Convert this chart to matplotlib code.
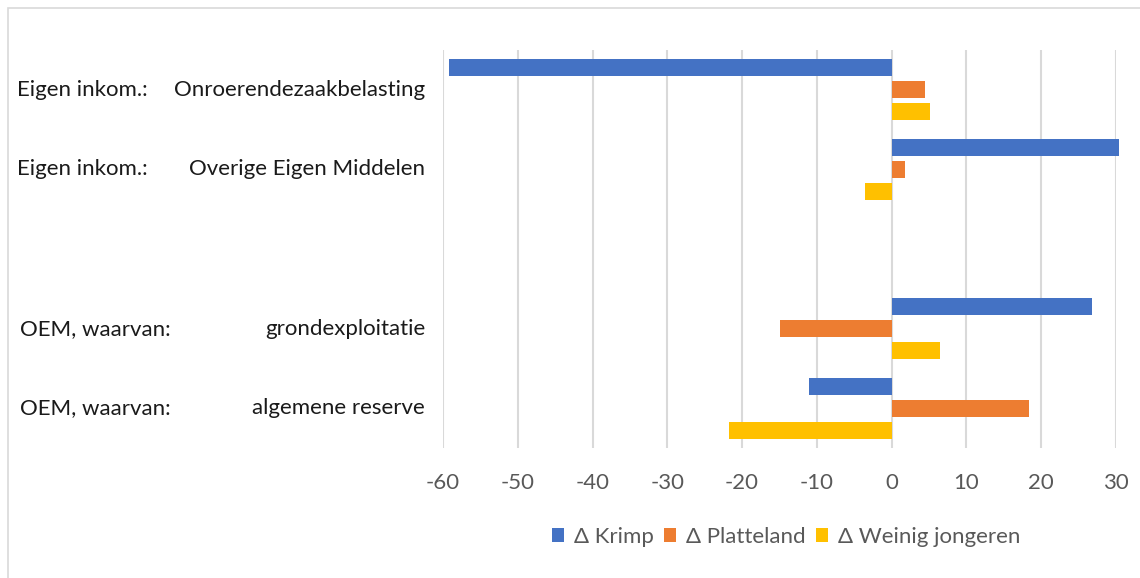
import numpy as np
import matplotlib.pyplot as plt
from matplotlib.patches import Rectangle

# categories (top to bottom); empty slot between the two groups
groups = ['Eigen inkom.:', 'Eigen inkom.:', '', 'OEM, waarvan:', 'OEM, waarvan:']
items = ['Onroerendezaakbelasting', 'Overige Eigen Middelen', '', 'grondexploitatie', 'algemene reserve']

series = ['\u0394 Krimp', '\u0394 Platteland', '\u0394 Weinig jongeren']
krimp = [-59.2, 30.4, np.nan, 26.8, -11.0]
platteland = [4.5, 1.8, np.nan, -14.9, 18.4]
weinig_jongeren = [5.1, -3.6, np.nan, 6.4, -21.8]
ticks = [-60, -50, -40, -30, -20, -10, 0, 10, 20, 30]

colors = ['#4472C4', '#ED7D31', '#FFC000']

plt.rcParams['font.family'] = ['Lato', 'DejaVu Sans']
fs = 16

W, H = 1140, 578
fig = plt.figure(figsize=(W / 100, H / 100), dpi=100)
ax = fig.add_axes([443 / W, 1 - 448 / H, (1116 - 443) / W, (448 - 50) / H])

y = np.arange(len(items))
step = 0.277
bh = 0.214
for i, (name, vals) in enumerate(zip(series, [krimp, platteland, weinig_jongeren])):
    bars = ax.barh(y + (i - 1) * step, vals, height=bh, color=colors[i], label=name, zorder=3)
    for b in bars:
        b.set_clip_on(False)

ax.set_xlim(-60, 30)
ax.set_ylim(len(items) - 0.5, -0.5)
ax.set_xticks(ticks)
ax.set_xticklabels([str(t) for t in ticks], fontsize=fs, color='#595959')
ax.set_yticks([])
ax.grid(axis='x', color='#d9d9d9', linewidth=1.5, zorder=0)
ax.tick_params(axis='x', length=0, pad=18)
for s in ax.spines.values():
    s.set_visible(False)

# two-level category labels
for yi, (g, it) in enumerate(zip(groups, items)):
    if not it:
        continue
    yf = 1 - (50 + (yi + 0.5) * (398 / 5)) / H
    x0 = 17 if g.startswith('Eigen') else 20
    fig.text(x0 / W, yf, g, ha='left', va='center', fontsize=fs, color='#1a1a1a')
    fig.text(425 / W, yf, it, ha='right', va='center', fontsize=fs, color='#1a1a1a')

leg = fig.legend(loc='center', bbox_to_anchor=(786 / W, 1 - 537 / H), ncol=3, frameon=False,
                 fontsize=fs, handlelength=0.55, handleheight=0.55, handletextpad=0.45,
                 columnspacing=0.45)
for t in leg.get_texts():
    t.set_color('#595959')

fig.patches.append(Rectangle((8 / W, -0.1), 1.2, 1 - 8 / H + 0.1, transform=fig.transFigure,
                             fill=False, edgecolor='#d9d9d9', linewidth=1.2))

fig.savefig('out.png', dpi=100)
